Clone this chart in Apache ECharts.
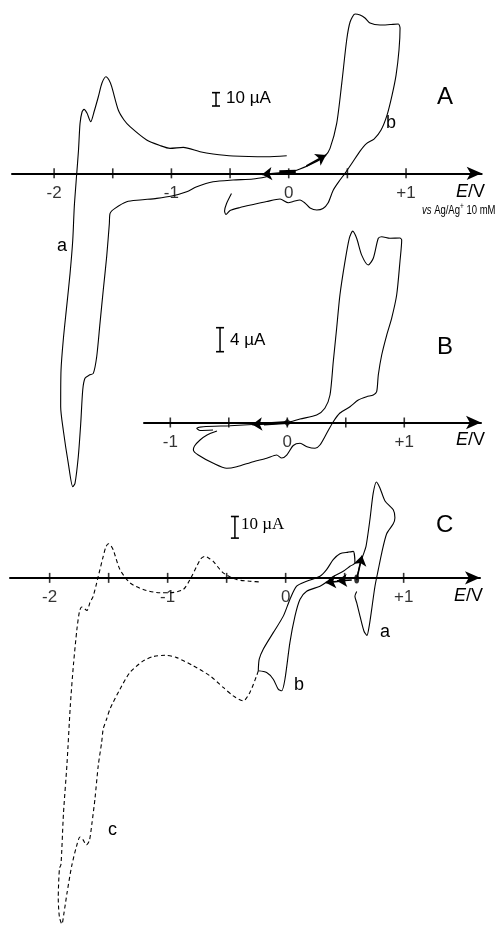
<!DOCTYPE html>
<html><head><meta charset="utf-8">
<script src="https://cdn.jsdelivr.net/npm/echarts@6/dist/echarts.min.js"></script>
<style>html,body{margin:0;padding:0;background:#fff}#c{width:498px;height:928px}</style>
</head><body><div id="c"></div>
<script>
// ---- tick positions and labels (E / V) ----
const ticksA = [-2, -1.5, -1, -0.5, 0, 0.5, 1];
const tickLabelsA = ['-2', '', '-1', '', '0', '', '+1'];
const ticksB = [-1, -0.5, 0, 0.5, 1];
const tickLabelsB = ['-1', '', '0', '', '+1'];
const ticksC = [-2, -1.5, -1, -0.5, 0, 0.5, 1];
const tickLabelsC = ['-2', '', '-1', '', '0', '', '+1'];

// ---- Panel A, curve a  [E (V), I (uA)] ----
const curveAa = [
 [-0.188,-2.55],[-0.304,-4.3],[-0.475,-5.0],[-0.645,-6.3],[-0.784,-10.05],[-0.870,-13.8],
 [-0.997,-17.0],[-1.125,-18.75],[-1.268,-20.0],[-1.381,-21.3],[-1.481,-26.25],[-1.523,-30.0],
 [-1.529,-37.5],[-1.552,-62.55],[-1.581,-87.5],[-1.609,-112.5],[-1.637,-137.55],[-1.666,-150],
 [-1.700,-151.3],[-1.737,-153.75],[-1.756,-162.5],[-1.773,-187.5],[-1.794,-212.55],[-1.822,-232.5],
 [-1.841,-235],[-1.879,-217.5],[-1.922,-192.5],[-1.944,-175],[-1.941,-147.5],[-1.922,-125],
 [-1.893,-100],[-1.864,-75],[-1.841,-50],[-1.828,-25],[-1.807,0],[-1.792,17.5],[-1.779,37.5],
 [-1.762,46],[-1.745,48],[-1.720,45.2],[-1.688,38.7],[-1.660,46],[-1.623,57.45],[-1.592,67.7],
 [-1.558,72.45],[-1.532,70],[-1.509,65],[-1.453,47.5],[-1.404,40],[-1.353,35],[-1.211,25],
 [-1.097,20.85],[-1.012,18.75],[-0.899,19.5],[-0.756,16.2],[-0.645,14.5],[-0.475,13],
 [-0.188,12.45],[-0.017,13.2]
];
// ---- Panel A, curve b ----
const curveAb = [
 [0.020,1.0],[0.096,3.2],[0.207,7.5],[0.309,13.0],[0.352,18.75],[0.409,37.5],[0.452,67.5],
 [0.494,100],[0.523,113.5],[0.565,119.5],[0.608,118.7],[0.650,116.5],[0.693,112.7],[0.778,111.2],
 [0.864,111.6],[0.934,112],[0.949,109],[0.940,92.5],[0.915,73.7],[0.881,58.7],[0.838,43.7],
 [0.787,32.5],[0.727,25.7],[0.665,22.5],[0.608,16.7],[0.540,7.7],[0.480,0],[0.437,-5.0],
 [0.380,-12.5],[0.335,-22.3],[0.292,-26.4],[0.239,-27.5],[0.182,-26],[0.139,-22.3],[0.096,-20],
 [0.037,-21.15],[-0.003,-22.05],[-0.074,-19.3],[-0.188,-21.15],[-0.304,-23.4],[-0.415,-25.65],
 [-0.500,-27.9],[-0.535,-30.9],[-0.547,-28.3],[-0.530,-22.65],[-0.488,-15.15]
];
// ---- Panel B ----
const curveB = [
 [-0.601,-1.42],[-0.686,-2.08],[-0.746,-2.92],[-0.793,-3.92],[-0.803,-4.58],[-0.761,-5.42],
 [-0.632,-6.8],[-0.518,-7.63],[-0.432,-7.37],[-0.291,-6.53],[-0.176,-5.97],[-0.091,-5.42],
 [-0.048,-5.92],[-0.005,-5.42],[0.051,-3.83],[0.109,-3.47],[0.168,-4.03],[0.237,-4.3],
 [0.279,-3.75],[0.337,-1.8],[0.393,0.13],[0.450,1.58],[0.536,2.63],[0.607,3.75],[0.679,4.3],
 [0.735,4.58],[0.764,5.13],[0.778,7.92],[0.807,11.25],[0.850,14.58],[0.892,17.37],[0.935,21.25],
 [0.963,26.8],[0.978,30.42],[0.963,30.75],[0.878,30.7],[0.807,30.97],[0.778,30.7],[0.735,27.37],
 [0.692,26.25],[0.636,27.9],[0.593,30.7],[0.559,31.9],[0.530,30.7],[0.493,26.8],[0.450,21.25],
 [0.422,15.7],[0.393,10.13],[0.365,4.58],[0.321,2.37],[0.251,1.25],[0.109,0.58],[-0.005,-0.03],
 [-0.259,-0.3],[-0.490,-0.53],[-0.718,-0.7],[-0.774,-0.97],[-0.746,-1.33],[-0.635,-1.25]
];
// ---- Panel C, curve a ----
const curveCa = [
 [0.602,-0.78],[0.630,6.13],[0.658,10.74],[0.681,14.56],[0.714,26.87],[0.742,39.17],[0.769,44.38],
 [0.799,41.6],[0.842,35.6],[0.912,31.5],[0.926,27.8],[0.912,25.0],[0.856,20.4],[0.814,11.5],
 [0.785,3.8],[0.757,-3.87],[0.729,-14.6],[0.708,-22.3],[0.689,-26.6],[0.664,-24.7],[0.630,-17.7],
 [0.602,-11.5],[0.587,-8.5],[0.602,-6.3]
];
// ---- Panel C, curve b ----
const curveCb = [
 [-0.232,-43.0],[-0.224,-37.65],[-0.190,-33.04],[-0.105,-25.35],[-0.020,-17.7],[0.036,-10.0],
 [0.093,-3.87],[0.178,-1.57],[0.291,0.74],[0.347,3.82],[0.403,8.43],[0.460,11.2],[0.531,11.9],
 [0.573,12.26],[0.587,6.9],[0.545,5.35],[0.488,3.04],[0.403,0.6],[0.347,-1.94],[0.291,-3.87],
 [0.178,-6.17],[0.121,-10.0],[0.079,-17.7],[0.036,-29.95],[-0.006,-46.9],[-0.034,-52.26],
 [-0.063,-51.5],[-0.105,-46.9],[-0.161,-43.8],[-0.232,-43.0]
];
// ---- Panel C, curve c (dashed) ----
const curveCc = [
 [-0.232,-43.0],[-0.246,-45.3],[-0.303,-53.0],[-0.359,-56.9],[-0.444,-54.6],[-0.529,-50.7],
 [-0.642,-45.3],[-0.783,-40.7],[-0.924,-36.9],[-1.023,-35.8],[-1.122,-36.4],[-1.207,-38.4],
 [-1.320,-43.8],[-1.404,-51.5],[-1.489,-60.7],[-1.517,-65.3],[-1.546,-69.9],[-1.559,-76.0],
 [-1.588,-86.8],[-1.616,-102.2],[-1.642,-113.7],[-1.663,-121.5],[-1.688,-123.6],[-1.718,-121.1],
 [-1.743,-119.9],[-1.773,-124.3],[-1.814,-133.5],[-1.853,-145.9],[-1.879,-155.2],[-1.896,-160.2],
 [-1.917,-157.0],[-1.927,-148.2],[-1.917,-134.4],[-1.904,-132.6],[-1.883,-109.1],[-1.853,-86.0],
 [-1.824,-58.4],[-1.798,-40.0],[-1.769,-23.8],[-1.747,-15.5],[-1.729,-13.5],[-1.709,-14.1],
 [-1.684,-15.1],[-1.658,-11.4],[-1.631,-8.5],[-1.588,0.74],[-1.546,9.95],[-1.523,14.4],
 [-1.503,15.8],[-1.481,14.9],[-1.461,13.0],[-1.404,3.8],[-1.319,-2.3],[-1.207,-5.4],
 [-1.065,-6.9],[-0.981,-6.9],[-0.868,-5.4],[-0.811,-0.8],[-0.754,5.35],[-0.718,8.9],
 [-0.684,9.95],[-0.650,9.1],[-0.614,7.65],[-0.529,2.3],[-0.415,-0.8],[-0.303,-1.57],[-0.203,-1.94]
];
// ---- scan-direction arrows [from, to] ----
const arrowsA = [[[0.15,5.5],[0.318,13.7]], [[-0.03,0.6],[-0.228,-0.9]]];
const arrowsB = [[[0.0,0.0],[-0.30,-0.35]]];
const arrowsC = [[[0.602,-0.8],[0.647,10.3]], [[0.56,-1.0],[0.435,-1.4]], [[0.50,-1.3],[0.34,-2.2]]];
// ---- scale bars: [E, I start, length uA] ----
const barA = [-0.620, 50.5, 10];
const barB = [-0.575, 11.8, 4];
const barC = [-0.430, 18.4, 10];

const F = 'Liberation Sans, Arial, sans-serif';
const grids = [
  {left: 12, width: 469.7, top: 0, height: 500},
  {left: 144, width: 337, top: 218.5, height: 264},
  {left: 10, width: 470, top: 459, height: 470.9}
];
const xr = [[-2.359, 1.645], [-1.225, 1.656], [-2.336, 1.647]];
const yr = [[-245, 130], [-10, 34], [-162, 55]];

const xAxis = xr.map((r, i) => ({
  gridIndex: i, type: 'value', min: r[0], max: r[1],
  axisLine: {show: true, onZero: true, symbol: ['none', 'arrow'], symbolSize: [10, 15],
    lineStyle: {color: '#000', width: 2}},
  axisTick: {show: false}, axisLabel: {show: false}, splitLine: {show: false}
}));
const yAxis = yr.map((r, i) => ({gridIndex: i, type: 'value', min: r[0], max: r[1], show: false}));

function curve(data, i, dashed) {
  return {type: 'line', xAxisIndex: i, yAxisIndex: i, data: data, showSymbol: false,
    smooth: 0.25, smoothMonotone: null, animation: false, silent: true,
    lineStyle: {color: '#000', width: 1.1, type: dashed ? [4, 3] : 'solid'}};
}
function ticks(t, labels, i) {
  return {type: 'scatter', xAxisIndex: i, yAxisIndex: i, symbol: 'rect', symbolSize: [1.6, 10],
    itemStyle: {color: '#000'}, animation: false, silent: true,
    data: t.map(v => [v, 0]),
    label: {show: true, position: 'bottom', distance: 6, fontSize: 17, fontFamily: F, color: '#000',
      formatter: p => labels[p.dataIndex]}};
}
function arrows(a, i) {
  return {type: 'lines', coordinateSystem: 'cartesian2d', xAxisIndex: i, yAxisIndex: i,
    symbol: ['none', 'arrow'], symbolSize: 10, animation: false, silent: true,
    lineStyle: {color: '#000', width: 1.6, opacity: 1, curveness: 0},
    data: a.map(c => ({coords: c}))};
}
function bar(b, i) {
  return {type: 'line', xAxisIndex: i, yAxisIndex: i, data: [[b[0], b[1]], [b[0], b[1] + b[2]]],
    showSymbol: true, symbol: 'rect', symbolSize: [8, 1.6], animation: false, silent: true,
    itemStyle: {color: '#000'}, lineStyle: {color: '#000', width: 1.5}};
}

const series = [
  curve(curveAa, 0), curve(curveAb, 0), ticks(ticksA, tickLabelsA, 0), arrows(arrowsA, 0), bar(barA, 0),
  {type: 'lines', coordinateSystem: 'cartesian2d', xAxisIndex: 0, yAxisIndex: 0, silent: true, animation: false,
   lineStyle: {color: '#000', width: 3.5, opacity: 1}, data: [{coords: [[-0.08, 1.0], [0.06, 1.3]]}]},
  curve(curveB, 1), ticks(ticksB, tickLabelsB, 1), arrows(arrowsB, 1), bar(barB, 1),
  {type: 'lines', coordinateSystem: 'cartesian2d', xAxisIndex: 1, yAxisIndex: 1, silent: true, animation: false,
   lineStyle: {color: '#000', width: 3, opacity: 1}, data: [{coords: [[-0.2, -0.25], [0.0, 0.0]]}]},
  {type: 'scatter', xAxisIndex: 1, yAxisIndex: 1, symbol: 'diamond', symbolSize: 8, silent: true,
   itemStyle: {color: '#000'}, data: [[0.0, 0.0]]},
  curve(curveCa, 2), curve(curveCb, 2), curve(curveCc, 2, true), ticks(ticksC, tickLabelsC, 2),
  arrows(arrowsC, 2), bar(barC, 2),
  {type: 'scatter', xAxisIndex: 2, yAxisIndex: 2, symbol: 'circle', symbolSize: [5, 9], silent: true,
   itemStyle: {color: '#000'}, data: [[0.602, -0.5]]}
];

function txt(text, x, y, size, opt, extra) {
  return Object.assign({type: 'text', x: x, y: y, silent: true, style: Object.assign({
    text: text, font: size + 'px ' + F, fill: '#000', textAlign: 'left', textVerticalAlign: 'middle'
  }, opt || {})}, extra || {});
}
const richEV = {i: {fontStyle: 'italic', fontSize: 18, fontFamily: F}, n: {fontSize: 18, fontFamily: F}};
const graphic = [
  txt('A', 437, 97, 24), txt('B', 437, 347, 24), txt('C', 436, 525, 24),
  txt('a', 57, 246, 18), txt('b', 386, 123, 18),
  txt('a', 380, 632, 18), txt('b', 294, 685, 18), txt('c', 108, 830, 18),
  txt('{i|E}{n|/V}', 456, 192, 18, {rich: richEV}),
  txt('{i|E}{n|/V}', 456, 440, 18, {rich: richEV}),
  txt('{i|E}{n|/V}', 454, 596, 18, {rich: richEV}),
  txt('{i|vs}{n| Ag/Ag}{s|+}{n| 10 mM}', 422, 210, 13, {rich: {
    i: {fontStyle: 'italic', fontSize: 13, fontFamily: F, lineHeight: 15},
    n: {fontSize: 13, fontFamily: F, lineHeight: 15},
    s: {fontSize: 9, fontFamily: F, lineHeight: 15, verticalAlign: 'top'}}}, {scaleX: 0.73}),
  txt('10 \u00b5A', 226, 98, 17),
  txt('4 \u00b5A', 230, 340, 17),
  txt('10 \u00b5A', 241, 525, 17, {font: '17px Liberation Serif, Times New Roman, serif'})
];

const chart = echarts.init(document.getElementById('c'), null, {renderer: 'canvas'});
chart.setOption({animation: false, backgroundColor: '#fff', grid: grids, xAxis: xAxis, yAxis: yAxis,
  series: series, graphic: graphic});
</script></body></html>
